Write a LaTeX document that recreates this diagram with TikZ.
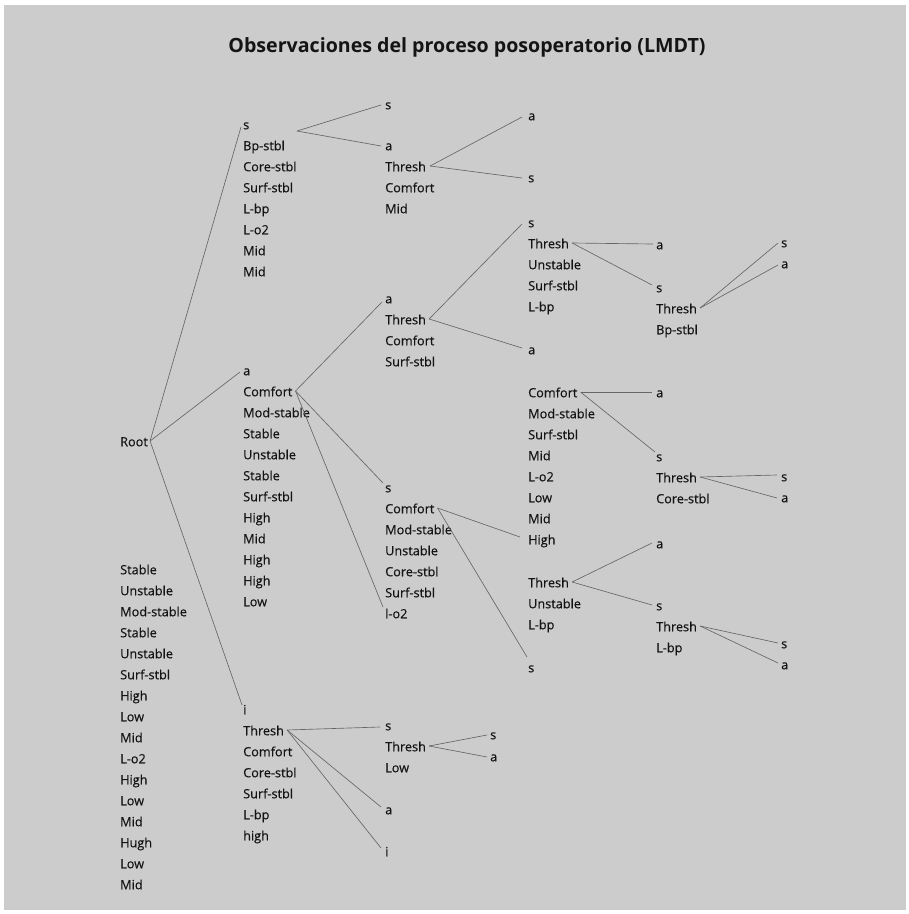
\documentclass[tikz,border=0pt]{standalone}
\usepackage{fontspec}
\setmainfont{Open Sans}
\newfontfamily\bodyfont[FakeBold=0.35]{Open Sans}
\definecolor{bgc}{HTML}{CCCCCC}
\definecolor{linec}{HTML}{666666}
\definecolor{textc}{HTML}{141414}
\begin{document}
\begin{tikzpicture}[x=1pt,y=-1pt,
  txt/.style={anchor=west,inner sep=0pt,text height=10.5pt,text depth=0pt,font=\bodyfont\fontsize{12.7}{14}\selectfont,text=textc},
  ln/.style={draw=linec,line width=0.65pt},
  title/.style={font=\fontsize{19.6}{22}\selectfont\bfseries,text=textc,inner sep=0pt}]
\fill[white] (0,0) rectangle (909,914);
\fill[bgc] (4,5) rectangle (906,910);
\useasboundingbox (0,0) rectangle (909,914);
\node[title] (ttl) at (467,47) {Observaciones del proceso posoperatorio (LMDT)};
% left column
\node[txt] (root) at (120,441) {Root};
\foreach \t [count=\i] in {Stable,Unstable,Mod-stable,Stable,Unstable,Surf-stbl,High,Low,Mid,L-o2,High,Low,Mid,Hugh,Low,Mid}
  \node[txt] (L\i) at (120,{569+21*(\i-1)}) {\t};
% column 2
\foreach \t [count=\i] in {s,Bp-stbl,Core-stbl,Surf-stbl,L-bp,L-o2,Mid,Mid}
  \node[txt] (ga\i) at (243,{124+21*(\i-1)}) {\t};
\foreach \t [count=\i] in {a,Comfort,Mod-stable,Stable,Unstable,Stable,Surf-stbl,High,Mid,High,High,Low}
  \node[txt] (gb\i) at (243,{370+21*(\i-1)}) {\t};
\foreach \t [count=\i] in {i,Thresh,Comfort,Core-stbl,Surf-stbl,L-bp,high}
  \node[txt] (gc\i) at (243,{709+21*(\i-1)}) {\t};
% column 3
\node[txt] (ca) at (385,104) {s};
\foreach \t [count=\i] in {a,Thresh,Comfort,Mid}
  \node[txt] (cb\i) at (385,{145+21*(\i-1)}) {\t};
\foreach \t [count=\i] in {a,Thresh,Comfort,Surf-stbl}
  \node[txt] (cc\i) at (385,{298+21*(\i-1)}) {\t};
\foreach \t [count=\i] in {s,Comfort,Mod-stable,Unstable,Core-stbl,Surf-stbl,l-o2}
  \node[txt] (cd\i) at (385,{487+21*(\i-1)}) {\t};
\foreach \t [count=\i] in {s,Thresh,Low}
  \node[txt] (ce\i) at (385,{725+21*(\i-1)}) {\t};
\node[txt] (cf) at (385,809) {a};
\node[txt] (cg) at (385,851) {i};
\node[txt] (ch1) at (490,734) {s};
\node[txt] (ch2) at (490,756) {a};
% column 4
\node[txt] (da) at (528,115) {a};
\node[txt] (db) at (528,177) {s};
\foreach \t [count=\i] in {s,Thresh,Unstable,Surf-stbl,L-bp}
  \node[txt] (dc\i) at (528,{222+21*(\i-1)}) {\t};
\node[txt] (dd) at (528,349) {a};
\foreach \t [count=\i] in {Comfort,Mod-stable,Surf-stbl,Mid,L-o2,Low,Mid,High}
  \node[txt] (de\i) at (528,{392+21*(\i-1)}) {\t};
\foreach \t [count=\i] in {Thresh,Unstable,L-bp}
  \node[txt] (df\i) at (528,{582+21*(\i-1)}) {\t};
\node[txt] (dg) at (528,667) {s};
% column 5
\node[txt] (ea) at (656,244) {a};
\foreach \t [count=\i] in {s,Thresh,Bp-stbl}
  \node[txt] (eb\i) at (656,{287+21*(\i-1)}) {\t};
\node[txt] (ec) at (656,392) {a};
\foreach \t [count=\i] in {s,Thresh,Core-stbl}
  \node[txt] (ed\i) at (656,{456+21*(\i-1)}) {\t};
\node[txt] (ee) at (656,543) {a};
\foreach \t [count=\i] in {s,Thresh,L-bp}
  \node[txt] (ef\i) at (656,{605+21*(\i-1)}) {\t};
% column 6
\node[txt] (fa) at (781,242) {s};
\node[txt] (fb) at (781,263) {a};
\node[txt] (fc) at (781,476) {s};
\node[txt] (fd) at (781,497) {a};
\node[txt] (fe) at (781,643) {s};
\node[txt] (ff) at (781,664) {a};
% branch point of the first group
\coordinate (bga) at (297,131);
% connectors
\draw[ln] ([xshift=2pt]root.east) -- ([xshift=-2pt,yshift=-3pt]ga1.west);
\draw[ln] ([xshift=2pt]root.east) -- ([xshift=-3pt,yshift=-2pt]gb1.west);
\draw[ln] ([xshift=2pt]root.east) -- ([xshift=-1pt,yshift=4pt]gc1.west);
\draw[ln] (bga) -- ([xshift=-4pt,yshift=-1pt]ca.west);
\draw[ln] (bga) -- ([xshift=-4pt,yshift=-1pt]cb1.west);
\draw[ln] ([xshift=3pt]gb2.east) -- ([xshift=-3pt,yshift=-4pt]cc1.west);
\draw[ln] ([xshift=3pt]gb2.east) -- ([xshift=-2pt,yshift=4pt]cd1.west);
\draw[ln] ([xshift=3pt]gb2.east) -- ([xshift=-2pt,yshift=6pt]cd7.west);
\draw[ln] ([xshift=4pt]cb2.east) -- ([xshift=-6pt,yshift=-2pt]da.west);
\draw[ln] ([xshift=4pt]cb2.east) -- ([xshift=-6pt,yshift=-1pt]db.west);
\draw[ln] ([xshift=3pt]cc2.east) -- ([xshift=-6pt,yshift=-2pt]dc1.west);
\draw[ln] ([xshift=3pt]cc2.east) -- ([xshift=-6pt,yshift=1pt]dd.west);
\draw[ln] ([xshift=3pt]dc2.east) -- ([xshift=-3pt]ea.west);
\draw[ln] ([xshift=3pt]dc2.east) -- ([xshift=-4pt,yshift=2pt]eb1.west);
\draw[ln] ([xshift=3pt]eb2.east) -- ([xshift=-3pt,yshift=-1pt]fa.west);
\draw[ln] ([xshift=3pt]eb2.east) -- ([xshift=-3pt,yshift=-2pt]fb.west);
\draw[ln] ([xshift=3pt]cd2.east) -- ([xshift=-8pt,yshift=2pt]de8.west);
\draw[ln] ([xshift=3pt]cd2.east) -- ([xshift=-1pt,yshift=10pt]dg.west);
\draw[ln] ([xshift=3pt]de1.east) -- ([xshift=-4pt]ec.west);
\draw[ln] ([xshift=3pt]de1.east) -- ([xshift=-1pt,yshift=4pt]ed1.west);
\draw[ln] ([xshift=3pt]ed2.east) -- ([xshift=-4pt,yshift=1pt]fc.west);
\draw[ln] ([xshift=3pt]ed2.east) -- ([xshift=-4pt,yshift=-1pt]fd.west);
\draw[ln] ([xshift=3pt]df1.east) -- ([xshift=-4pt]ee.west);
\draw[ln] ([xshift=3pt]df1.east) -- ([xshift=-4pt]ef1.west);
\draw[ln] ([xshift=3pt]ef2.east) -- ([xshift=-3pt]fe.west);
\draw[ln] ([xshift=3pt]ef2.east) -- ([xshift=-3pt,yshift=1pt]ff.west);
\draw[ln] ([xshift=3pt]gc2.east) -- ([xshift=-5pt,yshift=-2pt]ce1.west);
\draw[ln] ([xshift=3pt]gc2.east) -- ([xshift=-4pt,yshift=2pt]cf.west);
\draw[ln] ([xshift=3pt]gc2.east) -- ([xshift=-4pt,yshift=3pt]cg.west);
\draw[ln] ([xshift=3pt]ce2.east) -- ([xshift=-3pt,yshift=-1pt]ch1.west);
\draw[ln] ([xshift=3pt]ce2.east) -- ([xshift=-3pt,yshift=-1pt]ch2.west);
\end{tikzpicture}
\end{document}
